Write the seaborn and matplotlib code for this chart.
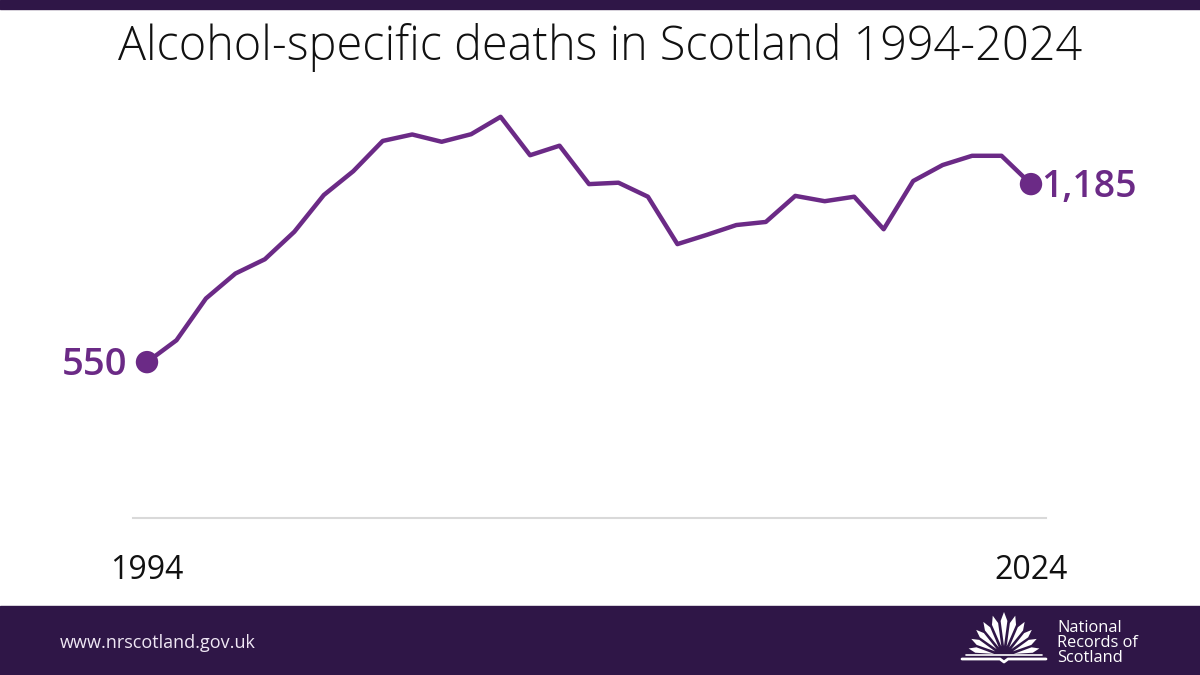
import numpy as np
import pandas as pd
import matplotlib
matplotlib.use("Agg")
import matplotlib.pyplot as plt
from matplotlib.patches import Rectangle, Polygon
import seaborn as sns

# data
years = list(range(1994, 2025))
deaths = [550, 628, 777, 866, 917, 1015, 1146, 1231, 1339, 1362,
          1336, 1363, 1425, 1288, 1322, 1185, 1190, 1140, 971, 1004,
          1039, 1050, 1143, 1124, 1140, 1024, 1196, 1253, 1286, 1286,
          1185]
end_labels = ["550", "1,185"]
tick_years = [1994, 2024]
title = "Alcohol-specific deaths in Scotland 1994-2024"

purple = "#6b2a86"
dark = "#2f1647"

sns.set_theme(style="white")
plt.rcParams["font.family"] = ["Open Sans", "DejaVu Sans"]

df = pd.DataFrame({"year": years, "deaths": deaths})

W, H = 1200, 675
fig = plt.figure(figsize=(12, 6.75), dpi=100)
fig.patch.set_facecolor("white")

# main chart axes: baseline at y=518px, spans x 133..1046px
ax = fig.add_axes([133 / W, 1 - 518 / H, 913 / W, 418 / H])
step = 884 / 30
ax.set_xlim(1994 - 14 / step, 2024 + 15 / step)
ax.set_ylim(-6, 1485)

sns.lineplot(data=df, x="year", y="deaths", ax=ax, color=purple, lw=3.2)
ends = df.iloc[[0, -1]]
sns.scatterplot(data=ends, x="year", y="deaths", ax=ax, color=purple,
                s=260, edgecolor="none", zorder=5)

ax.annotate(end_labels[0], (years[0], deaths[0]), xytext=(-14, -2),
            textcoords="offset points", ha="right", va="center",
            fontsize=27.5, fontweight="semibold", color=purple)
ax.annotate(end_labels[1], (years[-1], deaths[-1]), xytext=(7, -2),
            textcoords="offset points", ha="left", va="center",
            fontsize=27, fontweight="semibold", color=purple)

ax.set_xlabel("")
ax.set_ylabel("")
ax.set_yticks([])
ax.set_xticks(tick_years)
ax.set_xticklabels([str(y) for y in tick_years], fontsize=23, color="#111111")
ax.tick_params(axis="x", length=0, pad=26)
for s in ["top", "right", "left"]:
    ax.spines[s].set_visible(False)
ax.spines["bottom"].set_color("#d9d9d9")
ax.spines["bottom"].set_linewidth(1.5)
ax.set_facecolor("none")

# overlay in pixel coords for bands, title, footer and logo
ov = fig.add_axes([0, 0, 1, 1], zorder=-1)
ov.set_xlim(0, W)
ov.set_ylim(H, 0)
ov.axis("off")
ov.add_patch(Rectangle((0, 0), W, 9, color=dark))
ov.add_patch(Rectangle((0, 606), W, 69, color=dark))

fig.text(0.5, 1 - 47 / H, title, ha="center", va="center",
         fontsize=33.7, fontweight="light", color="#111111")
fig.text(60 / W, 1 - 643 / H, "www.nrscotland.gov.uk", ha="left",
         va="center", fontsize=13, color="#f0e8f5")
fig.text(1057 / W, 1 - 643 / H, "National\nRecords of\nScotland",
         ha="left", va="center", fontsize=11.8, color="white",
         linespacing=0.95)

# logo: fan of leaves over an open book
logo = fig.add_axes([0, 0, 1, 1], zorder=3)
logo.set_xlim(0, W)
logo.set_ylim(H, 0)
logo.axis("off")
cx, cy = 1004, 656
for ang in np.linspace(12, 168, 11):
    a = np.deg2rad(ang)
    r_in, r_out = 10, 44 - 8 * abs(np.cos(a))
    half = np.deg2rad(5.5)
    pts = [
        (cx + r_in * np.cos(a), cy - r_in * np.sin(a)),
        (cx + (r_out * 0.8) * np.cos(a - half), cy - (r_out * 0.8) * np.sin(a - half)),
        (cx + r_out * np.cos(a), cy - r_out * np.sin(a)),
        (cx + (r_out * 0.8) * np.cos(a + half), cy - (r_out * 0.8) * np.sin(a + half)),
    ]
    logo.add_patch(Polygon(pts, closed=True, color="white", lw=0))
logo.plot([962, 1000, 1004, 1008, 1046], [659, 659, 662, 659, 659],
          color="white", lw=2)
logo.plot([966, 1042], [655, 655], color="white", lw=1.2)

fig.savefig("out.png", dpi=100, facecolor="white")
